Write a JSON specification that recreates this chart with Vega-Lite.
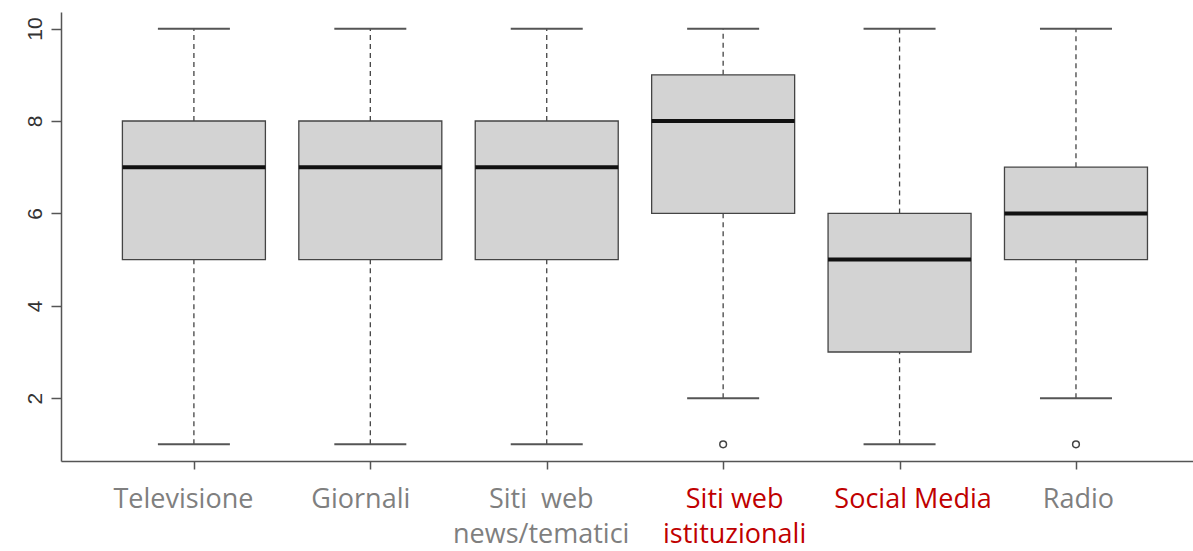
{
  "$schema": "https://vega.github.io/schema/vega-lite/v6.json",
  "autosize": {"type": "none"},
  "padding": {"left": 61, "top": 12, "right": 0, "bottom": 90},
  "width": 1132,
  "height": 449,
  "background": "white",
  "config": {"view": {"stroke": null}},
  "datasets": {
    "boxes": [
      {"pos": 1, "name": "Televisione", "lo": 1, "q1": 5, "med": 7, "q3": 8, "hi": 10},
      {"pos": 2, "name": "Giornali", "lo": 1, "q1": 5, "med": 7, "q3": 8, "hi": 10},
      {"pos": 3, "name": "Siti web news/tematici", "lo": 1, "q1": 5, "med": 7, "q3": 8, "hi": 10},
      {"pos": 4, "name": "Siti web istituzionali", "lo": 2, "q1": 6, "med": 8, "q3": 9, "hi": 10},
      {"pos": 5, "name": "Social Media", "lo": 1, "q1": 3, "med": 5, "q3": 6, "hi": 10},
      {"pos": 6, "name": "Radio", "lo": 2, "q1": 5, "med": 6, "q3": 7, "hi": 10}
    ],
    "outliers": [
      {"pos": 4, "value": 1},
      {"pos": 6, "value": 1}
    ]
  },
  "layer": [
    {
      "data": {"name": "boxes"},
      "mark": {"type": "rule", "color": "#444", "strokeWidth": 1.3, "strokeDash": [5, 4]},
      "encoding": {
        "x": {
          "field": "pos", "type": "quantitative",
          "scale": {"domain": [0.275, 6.635], "nice": false, "zero": false},
          "axis": {
            "values": [1, 2, 3, 4, 5, 6],
            "title": null,
            "grid": false,
            "domainColor": "#555",
            "domainWidth": 1.5,
            "tickColor": "#555",
            "tickWidth": 1.5,
            "tickSize": 8,
            "labelFont": "Open Sans",
            "labelFontSize": 27,
            "labelLineHeight": 35,
            "labelPadding": 17,
            "labelBaseline": "top",
            "labelFlush": false,
            "labelOverlap": false,
            "labelColor": {"condition": {"test": "datum.value == 4 || datum.value == 5", "value": "#c00000"}, "value": "#7f7f7f"},
            "labelOffset": {"condition": [
              {"test": "datum.value == 1", "value": -11},
              {"test": "datum.value == 2", "value": -10},
              {"test": "datum.value == 3", "value": -6},
              {"test": "datum.value == 4", "value": 11},
              {"test": "datum.value == 5", "value": 13}
            ], "value": 2},
            "labelExpr": "datum.value == 1 ? 'Televisione' : datum.value == 2 ? 'Giornali' : datum.value == 3 ? ['Siti\u00a0 web', 'news/tematici'] : datum.value == 4 ? ['Siti web', 'istituzionali'] : datum.value == 5 ? 'Social Media' : 'Radio'"
          }
        },
        "y": {
          "field": "lo", "type": "quantitative",
          "scale": {"domain": [0.64, 10.36], "nice": false, "zero": false},
          "axis": {
            "values": [2, 4, 6, 8, 10],
            "title": null,
            "grid": false,
            "domainColor": "#555",
            "domainWidth": 1.5,
            "tickColor": "#555",
            "tickWidth": 1.5,
            "tickSize": 10,
            "labelFont": "Liberation Sans",
            "labelFontSize": 21,
            "labelColor": "#333",
            "labelAngle": 270,
            "labelPadding": 6
          }
        },
        "y2": {"field": "q1"}
      }
    },
    {
      "data": {"name": "boxes"},
      "mark": {"type": "rule", "color": "#444", "strokeWidth": 1.3, "strokeDash": [5, 4]},
      "encoding": {
        "x": {"field": "pos", "type": "quantitative"},
        "y": {"field": "q3", "type": "quantitative"},
        "y2": {"field": "hi"}
      }
    },
    {
      "data": {"name": "boxes"},
      "mark": {"type": "tick", "orient": "horizontal", "size": 72, "thickness": 2, "color": "#555", "opacity": 1},
      "encoding": {
        "x": {"field": "pos", "type": "quantitative"},
        "y": {"field": "lo", "type": "quantitative"}
      }
    },
    {
      "data": {"name": "boxes"},
      "mark": {"type": "tick", "orient": "horizontal", "size": 72, "thickness": 2, "color": "#555", "opacity": 1},
      "encoding": {
        "x": {"field": "pos", "type": "quantitative"},
        "y": {"field": "hi", "type": "quantitative"}
      }
    },
    {
      "data": {"name": "boxes"},
      "mark": {"type": "bar", "width": 143, "fill": "#d3d3d3", "stroke": "#444", "strokeWidth": 1.3},
      "encoding": {
        "x": {"field": "pos", "type": "quantitative"},
        "y": {"field": "q1", "type": "quantitative"},
        "y2": {"field": "q3"}
      }
    },
    {
      "data": {"name": "boxes"},
      "mark": {"type": "tick", "orient": "horizontal", "size": 143, "thickness": 4, "color": "#111", "opacity": 1},
      "encoding": {
        "x": {"field": "pos", "type": "quantitative"},
        "y": {"field": "med", "type": "quantitative"}
      }
    },
    {
      "data": {"name": "outliers"},
      "mark": {"type": "point", "shape": "circle", "size": 45, "filled": false, "stroke": "#444", "strokeWidth": 1.5, "opacity": 1},
      "encoding": {
        "x": {"field": "pos", "type": "quantitative"},
        "y": {"field": "value", "type": "quantitative"}
      }
    },
    {
      "mark": {"type": "rule", "color": "#555", "strokeWidth": 1.5},
      "encoding": {"y": {"datum": 10.36}}
    }
  ]
}
